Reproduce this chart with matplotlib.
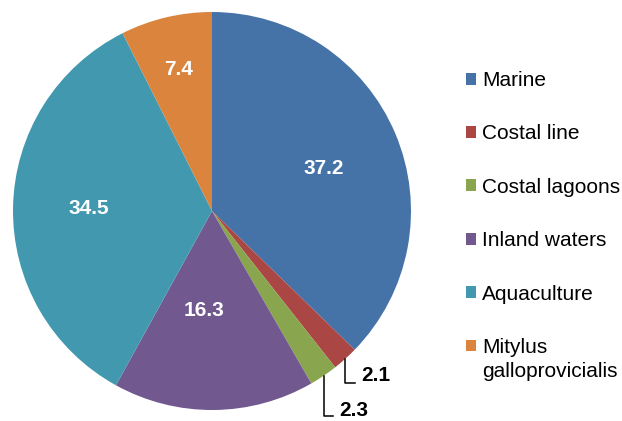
import matplotlib
matplotlib.use("Agg")
import matplotlib.pyplot as plt
from matplotlib.patches import Patch, Rectangle
from matplotlib.legend_handler import HandlerPatch
import numpy as np

plt.rcParams['font.family'] = ['Liberation Sans', 'DejaVu Sans']

# data
categories = ['Marine', 'Costal line', 'Costal lagoons', 'Inland waters',
              'Aquaculture', 'Mitylus\ngalloprovicialis']
values = [37.2, 2.1, 2.3, 16.3, 34.5, 7.4]
colors = ['#4673A7', '#AA4744', '#89A54E', '#71598F', '#4299AF', '#DB843E']

# label placement (radius inside wedge, None = outside with leader line)
label_r = [0.60, None, None, 0.50, 0.62, 0.73]
label_dtheta = [-2, 0, 0, -5, 0, 0]
leader_drop = {1: 0.12, 2: 0.20}
text_dy = {1: 0.035, 2: 0.025}
legend_linespacing = 1.35

W, H = 622, 421
fig = plt.figure(figsize=(W / 100, H / 100), dpi=100)
cx, cy, R = 212, 210, 199
ax = fig.add_axes([(cx - R) / W, (cy - R) / H, 2 * R / W, 2 * R / H])

wedges, _ = ax.pie(values, colors=colors, startangle=90, counterclock=False,
                   radius=1, wedgeprops=dict(edgecolor='none', linewidth=0))
ax.set_xlim(-1, 1)
ax.set_ylim(-1, 1)
ax.set_aspect('equal')
ax.axis('off')

for i, w in enumerate(wedges):
    ang = np.deg2rad((w.theta1 + w.theta2) / 2 + label_dtheta[i])
    txt = f'{values[i]:.1f}'
    if label_r[i] is not None:
        r = label_r[i]
        ax.text(r * np.cos(ang), r * np.sin(ang), txt, color='white',
                fontsize=15, fontweight='bold', ha='center', va='center')
    else:
        x0, y0 = np.cos(ang), np.sin(ang)
        y1 = y0 - leader_drop[i]
        ax.plot([x0, x0, x0 + 0.05], [y0, y1, y1], color='black', lw=1.1,
                clip_on=False)
        ax.text(x0 + 0.08, y1 + text_dy[i], txt, color='black', fontsize=15,
                fontweight='bold', ha='left', va='center', clip_on=False)


# put the square next to the first line of a wrapped label
class FirstLineHandler(HandlerPatch):
    def create_artists(self, legend, orig_handle, xdescent, ydescent,
                       width, height, fontsize, trans):
        nlines = orig_handle.get_label().count('\n') + 1
        shift = 0.5 * legend_linespacing * fontsize * (nlines - 1)
        p = Rectangle((-xdescent, -ydescent + shift), width, height,
                      facecolor=orig_handle.get_facecolor(), edgecolor='none',
                      transform=trans)
        return [p]


handles = [Patch(facecolor=c, edgecolor='none', label=l)
           for c, l in zip(colors, categories)]
leg = fig.legend(handles=handles, loc='upper left',
                 bbox_to_anchor=(466 / W, 1 - 71 / H), frameon=False,
                 fontsize=15, handlelength=0.5, handleheight=0.5,
                 handletextpad=0.26, labelspacing=1.65, borderpad=0,
                 borderaxespad=0, handler_map={Patch: FirstLineHandler()})
for t in leg.get_texts():
    t.set_linespacing(legend_linespacing)

fig.savefig('out.png', dpi=100)
